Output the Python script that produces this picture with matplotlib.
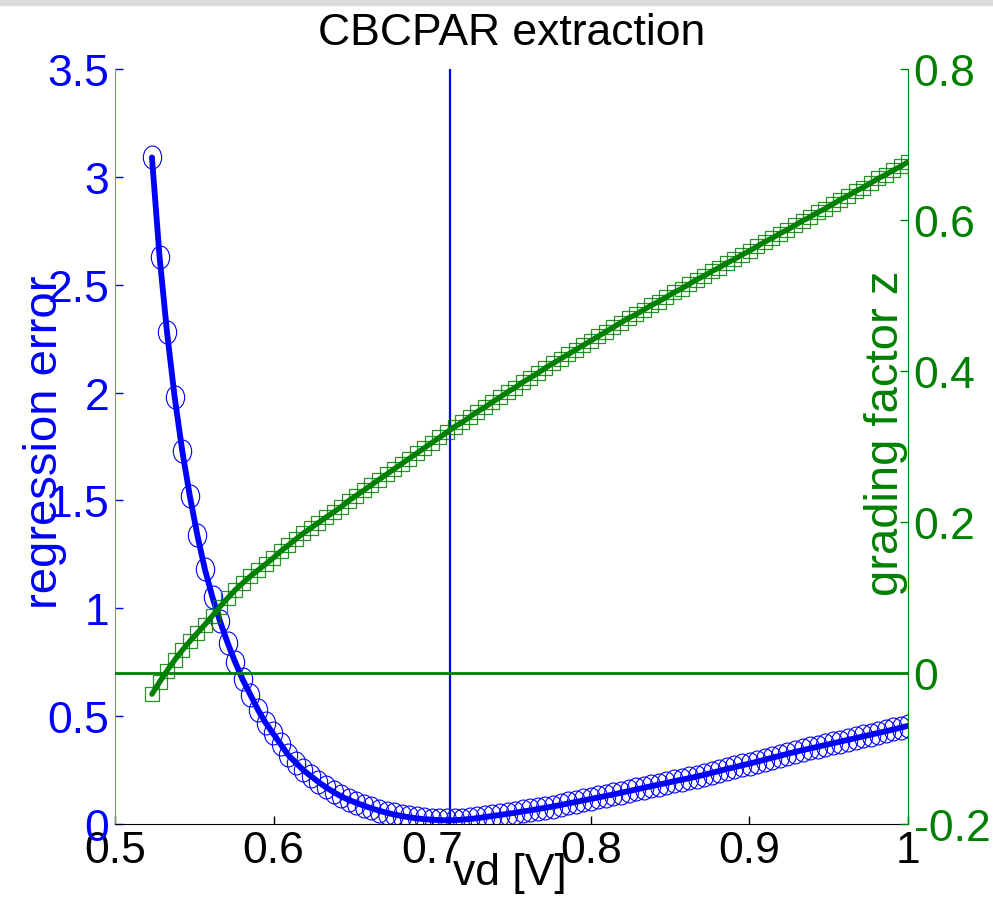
import numpy as np
import matplotlib
matplotlib.use("Agg")
import matplotlib.pyplot as plt
from matplotlib.path import Path
from matplotlib.patches import Rectangle

plt.rcParams['font.family'] = ['Liberation Sans', 'DejaVu Sans']

# voltage sweep vd [V]
vd = [0.5233, 0.5281, 0.5328, 0.5376, 0.5424, 0.5472, 0.5519, 0.5567, 0.5615, 0.5662,
      0.5710, 0.5758, 0.5805, 0.5853, 0.5901, 0.5949, 0.5996, 0.6044, 0.6092, 0.6139,
      0.6187, 0.6235, 0.6282, 0.6330, 0.6378, 0.6426, 0.6473, 0.6521, 0.6569, 0.6616,
      0.6664, 0.6712, 0.6759, 0.6807, 0.6855, 0.6903, 0.6950, 0.6998, 0.7046, 0.7093,
      0.7141, 0.7189, 0.7236, 0.7284, 0.7332, 0.7380, 0.7427, 0.7475, 0.7523, 0.7570,
      0.7618, 0.7666, 0.7713, 0.7761, 0.7809, 0.7857, 0.7904, 0.7952, 0.8000, 0.8047,
      0.8095, 0.8143, 0.8190, 0.8238, 0.8286, 0.8334, 0.8381, 0.8429, 0.8477, 0.8524,
      0.8572, 0.8620, 0.8667, 0.8715, 0.8763, 0.8811, 0.8858, 0.8906, 0.8954, 0.9001,
      0.9049, 0.9097, 0.9144, 0.9192, 0.9240, 0.9288, 0.9335, 0.9383, 0.9431, 0.9478,
      0.9526, 0.9574, 0.9621, 0.9669, 0.9717, 0.9765, 0.9812, 0.9860, 0.9908, 0.9955,
      1.0000]

regression_error = [3.09, 2.63, 2.28, 1.98, 1.73, 1.52, 1.34, 1.18, 1.05, 0.94,
                    0.84, 0.75, 0.67, 0.60, 0.53, 0.47, 0.42, 0.37, 0.32, 0.285,
                    0.25, 0.222, 0.195, 0.17, 0.148, 0.128, 0.112, 0.098, 0.085, 0.073,
                    0.062, 0.052, 0.044, 0.037, 0.031, 0.026, 0.022, 0.02, 0.018, 0.017,
                    0.018, 0.02, 0.023, 0.027, 0.032, 0.037, 0.042, 0.047, 0.052, 0.058,
                    0.063, 0.069, 0.075, 0.081, 0.088, 0.095, 0.102, 0.109, 0.116, 0.123,
                    0.130, 0.137, 0.145, 0.152, 0.16, 0.168, 0.175, 0.183, 0.19, 0.198,
                    0.205, 0.212, 0.22, 0.228, 0.237, 0.246, 0.255, 0.263, 0.272, 0.28,
                    0.289, 0.298, 0.307, 0.316, 0.325, 0.334, 0.342, 0.35, 0.358, 0.366,
                    0.374, 0.382, 0.39, 0.398, 0.406, 0.414, 0.422, 0.43, 0.438, 0.447,
                    0.455]

grading_z = [-0.028, -0.012, 0.003, 0.017, 0.030, 0.042, 0.053, 0.064, 0.076, 0.088,
             0.099, 0.110, 0.119, 0.128, 0.136, 0.144, 0.152, 0.161, 0.169, 0.177,
             0.185, 0.192, 0.199, 0.206, 0.213, 0.220, 0.228, 0.235, 0.242, 0.249,
             0.256, 0.263, 0.270, 0.277, 0.284, 0.291, 0.298, 0.305, 0.312, 0.319,
             0.326, 0.332, 0.339, 0.346, 0.352, 0.359, 0.365, 0.372, 0.378, 0.385,
             0.391, 0.397, 0.404, 0.410, 0.416, 0.422, 0.428, 0.434, 0.440, 0.446,
             0.452, 0.458, 0.464, 0.470, 0.475, 0.481, 0.487, 0.492, 0.498, 0.504,
             0.509, 0.515, 0.521, 0.526, 0.532, 0.537, 0.543, 0.548, 0.554, 0.559,
             0.565, 0.571, 0.576, 0.582, 0.587, 0.593, 0.599, 0.604, 0.610, 0.615,
             0.621, 0.627, 0.632, 0.638, 0.643, 0.649, 0.655, 0.660, 0.666, 0.671,
             0.677]

vd_opt = 0.7115
x_ticks = [0.5, 0.6, 0.7, 0.8, 0.9, 1.0]
x_ticklabels = ['0.5', '0.6', '0.7', '0.8', '0.9', '1']
left_ticks = [0, 0.5, 1, 1.5, 2, 2.5, 3, 3.5]
left_ticklabels = ['0', '0.5', '1', '1.5', '2', '2.5', '3', '3.5']
right_ticks = [-0.2, 0, 0.2, 0.4, 0.6, 0.8]
right_ticklabels = ['-0.2', '0', '0.2', '0.4', '0.6', '0.8']

blue = '#0000ff'
green = '#008000'
fs = 32

# slightly tall ellipse like the matlab circles
ellipse = Path.unit_circle().transformed(matplotlib.transforms.Affine2D().scale(0.8, 1.0))

fig = plt.figure(figsize=(9.93, 9.03), dpi=100)
fig.patches.append(Rectangle((0, 0.993), 1, 0.007, transform=fig.transFigure,
                             color='#dcdcdc', zorder=0))
ax1 = fig.add_axes([0.1158, 0.0864, 0.7986, 0.8361])
ax2 = ax1.twinx()

ax1.plot(vd, regression_error, color=blue, lw=4.2, solid_capstyle='round', zorder=3)
ax1.plot(vd, regression_error, ls='none', marker=ellipse, ms=16.5, mfc='none',
         mec=blue, mew=0.8, zorder=2)
ax1.axvline(vd_opt, color=blue, lw=1.6)

ax2.plot(vd, grading_z, color=green, lw=3.9, solid_capstyle='round', zorder=3)
ax2.plot(vd, grading_z, ls='none', marker='s', ms=10.5, mfc='none',
         mec=green, mew=0.9, alpha=0.85, zorder=2)
ax2.axhline(0, color=green, lw=2)

ax1.set_xlim(0.5, 1.0)
ax1.set_ylim(0, 3.5)
ax2.set_ylim(-0.2, 0.8)

ax1.set_xticks(x_ticks)
ax1.set_xticklabels(x_ticklabels)
ax1.set_yticks(left_ticks)
ax1.set_yticklabels(left_ticklabels)
ax2.set_yticks(right_ticks)
ax2.set_yticklabels(right_ticklabels)

ax1.tick_params(axis='x', direction='in', length=6, width=1, labelsize=fs,
                colors='black', pad=4)
ax1.tick_params(axis='y', direction='in', length=6, width=1, labelsize=fs,
                colors=blue, pad=4)
ax2.tick_params(axis='y', direction='in', length=6, width=1, labelsize=fs,
                colors=green, pad=4)
ax2.tick_params(axis='x', length=0)

for ax in (ax1, ax2):
    ax.spines['top'].set_visible(False)
ax1.spines['right'].set_visible(False)
ax2.spines['left'].set_visible(False)
ax2.spines['bottom'].set_visible(False)
ax1.spines['left'].set_color('#8080ff')
ax1.spines['bottom'].set_color('black')
ax2.spines['right'].set_color(green)

ax1.set_title('CBCPAR extraction', fontsize=fs, pad=18)
fig.text(0.045, 0.51, 'regression error', rotation=90, color=blue,
         fontsize=34, ha='center', va='center')
fig.text(0.892, 0.52, 'grading factor z', rotation=90, color=green,
         fontsize=34, ha='center', va='center')
fig.text(0.513, 0.033, 'vd [V]', color='black', fontsize=fs,
         ha='center', va='center')

fig.savefig('out.png', dpi=100)
